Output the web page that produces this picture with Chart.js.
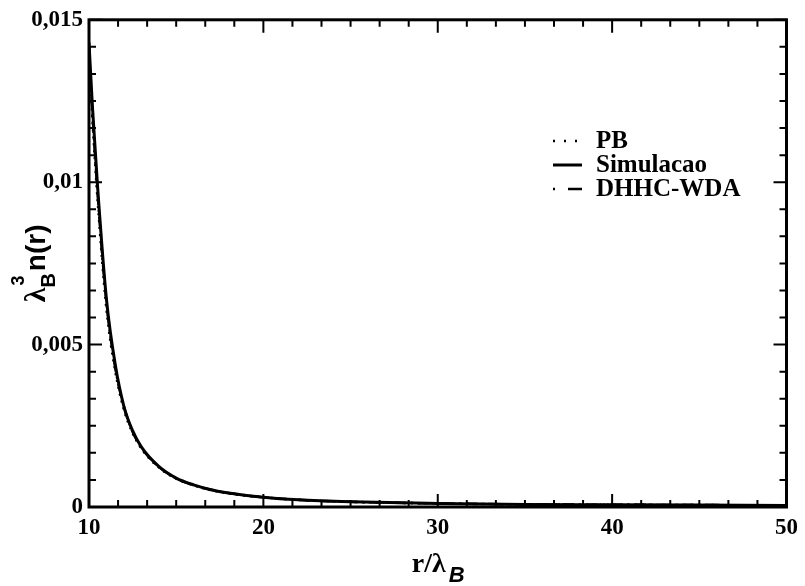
<!DOCTYPE html>
<html>
<head>
<meta charset="utf-8">
<script src="https://cdn.jsdelivr.net/npm/chart.js@4/dist/chart.umd.min.js"></script>
<style>
  html, body { margin: 0; padding: 0; background: #fff; }
  #wrap { width: 805px; height: 586px; }
</style>
</head>
<body>
<div id="wrap"><canvas id="densityChart" width="805" height="586"></canvas></div>
<script>
  const rValues    = [10, 10.2, 10.5, 11, 11.5, 12, 12.5, 13, 14, 15, 16, 17, 18, 20, 22, 25, 30, 35, 40, 45, 50];
  const simValues  = [0.0143, 0.0123, 0.0098, 0.0064, 0.0044, 0.0031, 0.00235, 0.00185, 0.00125, 0.00089, 0.00068, 0.00053, 0.00043, 0.0003, 0.00022, 0.00016, 0.00011, 0.00008, 0.00007, 0.00006, 0.00005];
  const pbValues   = [0.0140, 0.0119, 0.0094, 0.0061, 0.0042, 0.0030, 0.00228, 0.00180, 0.00122, 0.00087, 0.00067, 0.00052, 0.00042, 0.0003, 0.00022, 0.00016, 0.00011, 0.00008, 0.00007, 0.00006, 0.00005];
  const dhhcValues = [0.0141, 0.0121, 0.0096, 0.0063, 0.0043, 0.0031, 0.00232, 0.00183, 0.00124, 0.00088, 0.00067, 0.00053, 0.00043, 0.0003, 0.00022, 0.00016, 0.00011, 0.00008, 0.00007, 0.00006, 0.00005];
  const seriesLabels = ['PB', 'Simulacao', 'DHHC-WDA'];

  const serif = '"Liberation Serif", "Times New Roman", serif';
  const sans = '"Liberation Sans", Arial, sans-serif';

  const toPoints = vals => vals.map((v, i) => ({ x: rValues[i], y: v }));

  // inward ticks on all four sides, 5 minor ticks between majors
  const frameTicks = {
    id: 'frameTicks',
    afterDatasetsDraw(chart) {
      const { ctx, chartArea: a, scales } = chart;
      ctx.save();
      ctx.strokeStyle = '#000';
      ctx.lineWidth = 2;
      ctx.beginPath();
      for (let k = 0; k <= 24; k++) {
        const v = 10 + k * 10 / 6;
        const px = scales.x.getPixelForValue(v);
        const len = k % 6 === 0 ? 13 : 7;
        ctx.moveTo(px, a.bottom); ctx.lineTo(px, a.bottom - len);
        ctx.moveTo(px, a.top); ctx.lineTo(px, a.top + len);
      }
      for (let k = 0; k <= 18; k++) {
        const v = k * 0.005 / 6;
        const py = scales.y.getPixelForValue(v);
        const len = k % 6 === 0 ? 13 : 7;
        ctx.moveTo(a.left, py); ctx.lineTo(a.left + len, py);
        ctx.moveTo(a.right, py); ctx.lineTo(a.right - len, py);
      }
      ctx.stroke();
      ctx.lineWidth = 3;
      ctx.strokeRect(a.left, a.top, a.right - a.left, a.bottom - a.top);
      ctx.restore();
    }
  };

  // axis titles with sub/superscripts
  const axisTitles = {
    id: 'axisTitles',
    afterDraw(chart) {
      const { ctx, chartArea: a } = chart;
      ctx.save();
      ctx.fillStyle = '#000';
      ctx.textBaseline = 'alphabetic';

      // x title: r/λ_B
      ctx.font = 'bold 28px ' + serif;
      const main = 'r/λ';
      const wMain = ctx.measureText(main).width;
      ctx.font = 'italic bold 22px ' + sans;
      const wSub = ctx.measureText('B').width;
      const cx = (a.left + a.right) / 2;
      let x0 = cx - (wMain + wSub + 2) / 2;
      ctx.font = 'bold 28px ' + serif;
      ctx.fillText(main, x0, 572);
      ctx.font = 'italic bold 22px ' + sans;
      ctx.fillText('B', x0 + wMain + 3, 582);

      // y title: λ_B^3 n(r), rotated
      ctx.translate(45, (a.top + a.bottom) / 2);
      ctx.rotate(-Math.PI / 2);
      ctx.font = 'bold 30px ' + serif;
      const wL = ctx.measureText('λ').width;
      ctx.font = 'bold 28px ' + sans;
      const wN = ctx.measureText('n(r)').width;
      ctx.font = 'bold 20px ' + sans;
      const wB = ctx.measureText('B').width;
      const total = wL + wB + 2 + wN;
      let tx = -total / 2;
      ctx.font = 'bold 30px ' + serif;
      ctx.fillText('λ', tx, 0);
      tx += wL;
      ctx.font = 'bold 20px ' + sans;
      ctx.fillText('B', tx, 10);
      ctx.font = 'bold 18px ' + sans;
      ctx.fillText('3', tx + 2, -21);
      tx += wB + 2;
      ctx.font = 'bold 28px ' + sans;
      ctx.fillText('n(r)', tx, 0);
      ctx.restore();
    }
  };

  // legend drawn inside the plot
  const innerLegend = {
    id: 'innerLegend',
    afterDraw(chart) {
      const { ctx } = chart;
      ctx.save();
      ctx.fillStyle = '#000';
      ctx.strokeStyle = '#000';
      ctx.font = 'bold 25px ' + serif;
      ctx.textBaseline = 'middle';
      chart.data.datasets.forEach((ds, i) => {
        const y = 141 + i * 24;
        ctx.lineWidth = ds.borderWidth;
        ctx.setLineDash(ds.legendDash);
        ctx.beginPath();
        ctx.moveTo(553, y);
        ctx.lineTo(582, y);
        ctx.stroke();
        ctx.setLineDash([]);
        ctx.fillText(ds.label, 596, y + 1);
      });
      ctx.restore();
    }
  };

  const commaFmt = v => String(Number(v.toFixed(4))).replace('.', ',');

  const ctx = document.getElementById('densityChart').getContext('2d');
  const densityChart = new Chart(ctx, {
    type: 'line',
    data: {
      datasets: [
        {
          label: seriesLabels[0],
          data: toPoints(pbValues),
          borderColor: '#000',
          borderWidth: 2.5,
          borderDash: [2, 5],
          legendDash: [2, 9],
          pointRadius: 0,
          cubicInterpolationMode: 'monotone',
        },
        {
          label: seriesLabels[1],
          data: toPoints(simValues),
          borderColor: '#000',
          borderWidth: 3,
          borderDash: [],
          legendDash: [],
          pointRadius: 0,
          cubicInterpolationMode: 'monotone',
        },
        {
          label: seriesLabels[2],
          data: toPoints(dhhcValues),
          borderColor: '#000',
          borderWidth: 2.5,
          borderDash: [12, 5, 2, 5],
          legendDash: [2, 13, 14, 50],
          pointRadius: 0,
          cubicInterpolationMode: 'monotone',
        },
      ],
    },
    options: {
      responsive: false,
      animation: false,
      layout: { padding: { top: 18, right: 15, left: 0, bottom: 0 } },
      plugins: {
        legend: { display: false },
        tooltip: { enabled: false },
      },
      scales: {
        x: {
          type: 'linear',
          min: 10,
          max: 50,
          grid: { display: false, drawTicks: false },
          border: { display: false },
          ticks: {
            stepSize: 10,
            padding: 7,
            color: '#000',
            font: { family: serif, size: 23, weight: 'bold' },
            maxRotation: 0,
          },
          afterFit(scale) { scale.height = 79; },
        },
        y: {
          min: 0,
          max: 0.015,
          grid: { display: false, drawTicks: false },
          border: { display: false },
          ticks: {
            stepSize: 0.005,
            padding: 6,
            color: '#000',
            font: { family: serif, size: 23, weight: 'bold' },
            callback: v => commaFmt(v),
          },
          afterFit(scale) { scale.width = 89; },
        },
      },
    },
    plugins: [frameTicks, axisTitles, innerLegend],
  });
</script>
</body>
</html>
